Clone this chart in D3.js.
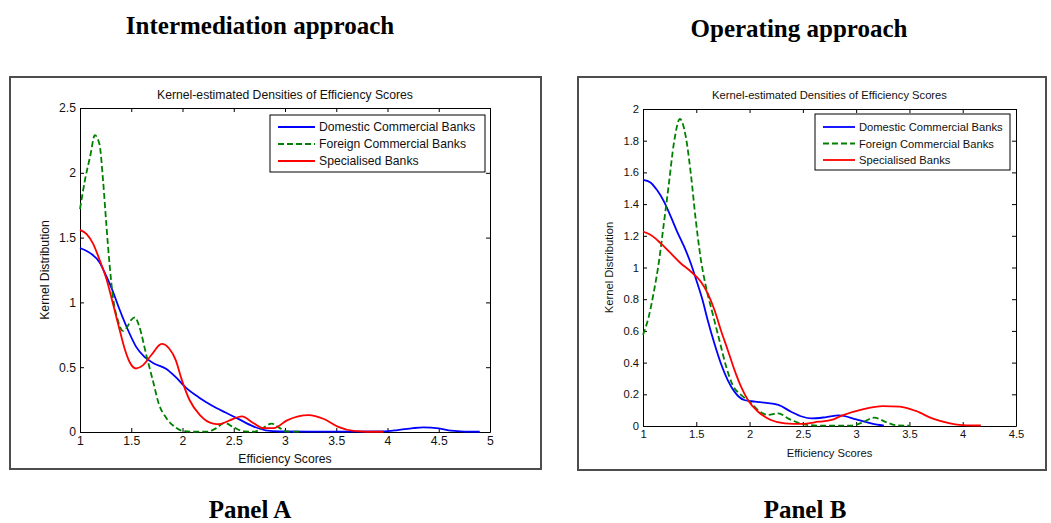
<!DOCTYPE html>
<html>
<head>
<meta charset="utf-8">
<script src="https://cdn.jsdelivr.net/npm/d3@7"></script>
<style>
  body { margin: 0; background: #fff; }
  text { font-family: "Liberation Sans", Arial, sans-serif; }
</style>
</head>
<body>
<script>
// series names
var seriesNames = ["Domestic Commercial Banks", "Foreign Commercial Banks", "Specialised Banks"];

// Panel A (intermediation approach) curves, [score, density]
var aDomestic = [[1,1.42],[1.1,1.38],[1.19,1.31],[1.258,1.2],[1.32,1.086],[1.387,0.943],[1.468,0.787],[1.548,0.657],[1.629,0.579],[1.726,0.527],[1.839,0.488],[1.935,0.423],[2.03,0.345],[2.16,0.267],[2.29,0.203],[2.42,0.15],[2.55,0.099],[2.68,0.047],[2.81,0.013],[2.95,0.004],[3.5,0.003],[3.95,0.005],[4.1,0.015],[4.25,0.03],[4.35,0.035],[4.5,0.028],[4.62,0.01],[4.75,0.003],[4.9,0.002]];
var aForeign = [[1,1.72],[1.05,1.95],[1.1,2.13],[1.145,2.29],[1.19,2.22],[1.226,1.93],[1.258,1.59],[1.29,1.28],[1.32,1.05],[1.37,0.86],[1.42,0.78],[1.46,0.81],[1.5,0.865],[1.535,0.885],[1.58,0.81],[1.645,0.6],[1.71,0.4],[1.77,0.215],[1.84,0.11],[1.935,0.034],[2.0,0.008],[2.1,0.002],[2.25,0.003],[2.33,0.03],[2.41,0.07],[2.5,0.035],[2.6,0.005],[2.7,0.003],[2.78,0.03],[2.87,0.065],[2.95,0.03],[3.02,0.004],[3.15,0.002]];
var aSpecial = [[1,1.56],[1.065,1.527],[1.13,1.45],[1.19,1.33],[1.258,1.18],[1.32,0.995],[1.387,0.787],[1.435,0.644],[1.484,0.54],[1.546,0.49],[1.613,0.514],[1.694,0.592],[1.797,0.68],[1.87,0.644],[1.935,0.553],[1.99,0.41],[2.07,0.245],[2.17,0.13],[2.3,0.064],[2.36,0.06],[2.46,0.09],[2.58,0.12],[2.69,0.07],[2.79,0.03],[2.89,0.03],[3.02,0.09],[3.23,0.13],[3.38,0.1],[3.52,0.04],[3.67,0.008],[3.8,0.002],[3.96,0.002]];

// Panel B (operating approach)
var bDomestic = [[1,1.553],[1.07,1.537],[1.13,1.49],[1.196,1.417],[1.26,1.322],[1.32,1.227],[1.385,1.133],[1.448,1.027],[1.51,0.9],[1.558,0.796],[1.606,0.67],[1.67,0.52],[1.73,0.396],[1.795,0.29],[1.858,0.217],[1.95,0.164],[2.05,0.154],[2.14,0.147],[2.27,0.133],[2.39,0.09],[2.49,0.06],[2.58,0.048],[2.71,0.055],[2.84,0.067],[3.0,0.042],[3.15,0.015],[3.26,0.003]];
var bForeign = [[1,0.575],[1.054,0.69],[1.1,0.84],[1.148,1.03],[1.196,1.28],[1.243,1.53],[1.29,1.785],[1.347,1.937],[1.4,1.83],[1.448,1.596],[1.495,1.3],[1.543,1.05],[1.59,0.88],[1.653,0.71],[1.716,0.543],[1.78,0.375],[1.84,0.26],[1.92,0.196],[2.0,0.154],[2.08,0.1],[2.17,0.07],[2.27,0.08],[2.36,0.048],[2.46,0.02],[2.55,0.006],[2.7,0.002],[2.95,0.003],[3.05,0.02],[3.17,0.053],[3.28,0.025],[3.38,0.004],[3.5,0.002]];
var bSpecial = [[1,1.227],[1.07,1.206],[1.164,1.154],[1.26,1.09],[1.353,1.027],[1.448,0.975],[1.543,0.91],[1.606,0.838],[1.67,0.733],[1.73,0.606],[1.795,0.48],[1.858,0.354],[1.92,0.248],[1.984,0.164],[2.08,0.09],[2.2,0.038],[2.33,0.017],[2.49,0.013],[2.65,0.027],[2.77,0.038],[2.87,0.067],[3.06,0.105],[3.25,0.126],[3.41,0.122],[3.56,0.095],[3.72,0.046],[3.88,0.017],[4.0,0.006],[4.17,0.003]];

// tick values
var aXTicks = [1, 1.5, 2, 2.5, 3, 3.5, 4, 4.5, 5];
var aYTicks = [0, 0.5, 1, 1.5, 2, 2.5];
var bXTicks = [1, 1.5, 2, 2.5, 3, 3.5, 4, 4.5];
var bYTicks = [0, 0.2, 0.4, 0.6, 0.8, 1, 1.2, 1.4, 1.6, 1.8, 2];

var colors = ["#0000ff", "#008000", "#ff0000"];
var dashes = [null, "6,3", null];

var w = 1051, h = 523;

var svg = d3.select("body").append("svg")
    .attr("width", w)
    .attr("height", h);

function panel(o) {
    var g = svg.append("g");

    // outer frame
    g.append("rect")
        .attr("x", o.box[0]).attr("y", o.box[1])
        .attr("width", o.box[2] - o.box[0]).attr("height", o.box[3] - o.box[1])
        .style("fill", "none").style("stroke", "#4d4d4d").style("stroke-width", 2);

    // headings
    svg.append("text")
        .attr("x", o.headX).attr("y", o.headY)
        .attr("text-anchor", "middle")
        .style("font-family", "'Liberation Serif', 'Times New Roman', serif")
        .style("font-weight", "bold").style("font-size", "25px")
        .text(o.heading);
    svg.append("text")
        .attr("x", o.footX).attr("y", 518)
        .attr("text-anchor", "middle")
        .style("font-family", "'Liberation Serif', 'Times New Roman', serif")
        .style("font-weight", "bold").style("font-size", "25px")
        .text(o.footer);

    var x = d3.scaleLinear().domain(o.xDom).range([o.plot[0], o.plot[2]]);
    var y = d3.scaleLinear().domain(o.yDom).range([o.plot[3], o.plot[1]]);
    var fs = o.fs + "px";

    var fmt = function (d) { return d; };
    var gx = g.append("g").attr("transform", "translate(0," + o.plot[3] + ")")
        .call(d3.axisBottom(x).tickValues(o.xTicks).tickSizeInner(-4).tickSizeOuter(0).tickPadding(4).tickFormat(fmt));
    var gy = g.append("g").attr("transform", "translate(" + o.plot[0] + ",0)")
        .call(d3.axisLeft(y).tickValues(o.yTicks).tickSizeInner(-4).tickSizeOuter(0).tickPadding(4).tickFormat(fmt));
    var gt = g.append("g").attr("transform", "translate(0," + o.plot[1] + ")")
        .call(d3.axisTop(x).tickValues(o.xTicks).tickSizeInner(-4).tickSizeOuter(0).tickFormat(""));
    var gr = g.append("g").attr("transform", "translate(" + o.plot[2] + ",0)")
        .call(d3.axisRight(y).tickValues(o.yTicks).tickSizeInner(-4).tickSizeOuter(0).tickFormat(""));
    [gx, gy, gt, gr].forEach(function (a) {
        a.selectAll("path,line").style("stroke", "#000").style("stroke-width", 1);
        a.selectAll("text").style("font-size", fs).style("font-family", "'Liberation Sans', Arial, sans-serif").style("fill", "#111");
    });

    // title & labels
    g.append("text").attr("x", (o.plot[0] + o.plot[2]) / 2).attr("y", o.titleY)
        .attr("text-anchor", "middle").style("font-size", fs).style("fill", "#111")
        .text("Kernel-estimated Densities of Efficiency Scores");
    g.append("text").attr("x", (o.plot[0] + o.plot[2]) / 2).attr("y", o.xLabY)
        .attr("text-anchor", "middle").style("font-size", fs).style("fill", "#111")
        .text("Efficiency Scores");
    g.append("text")
        .attr("transform", "translate(" + o.yLabX + "," + (o.plot[1] + o.plot[3]) / 2 + ") rotate(-90)")
        .attr("text-anchor", "middle").style("font-size", fs).style("fill", "#111")
        .text("Kernel Distribution");

    var line = d3.line()
        .x(function (d) { return x(d[0]); })
        .y(function (d) { return y(d[1]); })
        .curve(d3.curveMonotoneX);

    o.series.forEach(function (s, i) {
        g.append("path").datum(s)
            .attr("d", line)
            .style("fill", "none")
            .style("stroke", colors[i])
            .style("stroke-width", 1.8)
            .style("stroke-dasharray", dashes[i]);
    });

    // legend
    var L = o.legend;
    g.append("rect").attr("x", L.x0).attr("y", L.y0)
        .attr("width", L.x1 - L.x0).attr("height", L.y1 - L.y0)
        .style("fill", "#fff").style("stroke", "#000").style("stroke-width", 1);
    seriesNames.forEach(function (n, i) {
        var yy = L.rowY + i * L.step;
        g.append("line").attr("x1", L.lx0).attr("x2", L.lx1).attr("y1", yy).attr("y2", yy)
            .style("stroke", colors[i]).style("stroke-width", 1.8)
            .style("stroke-dasharray", dashes[i]);
        g.append("text").attr("x", L.tx).attr("y", yy + o.fs * 0.36)
            .style("font-size", fs).style("fill", "#111").text(n);
    });
}

panel({
    box: [10, 77, 541, 469],
    plot: [80, 108, 490, 432],
    xDom: [1, 5], yDom: [0, 2.5],
    xTicks: aXTicks, yTicks: aYTicks,
    fs: 12.2,
    titleY: 99, xLabY: 463, yLabX: 49,
    heading: "Intermediation approach", headX: 260, headY: 34,
    footer: "Panel A", footX: 250,
    series: [aDomestic, aForeign, aSpecial],
    legend: { x0: 270, y0: 115, x1: 485, y1: 172, rowY: 127, step: 17, lx0: 278, lx1: 315, tx: 319 }
});

panel({
    box: [578, 77, 1046, 470],
    plot: [643, 109, 1016, 426],
    xDom: [1, 4.5], yDom: [0, 2],
    xTicks: bXTicks, yTicks: bYTicks,
    fs: 11.2,
    titleY: 99, xLabY: 457, yLabX: 613,
    heading: "Operating approach", headX: 799, headY: 37,
    footer: "Panel B", footX: 805,
    series: [bDomestic, bForeign, bSpecial],
    legend: { x0: 815, y0: 114, x1: 1010, y1: 170, rowY: 127, step: 16.5, lx0: 823, lx1: 855, tx: 859 }
});
</script>
</body>
</html>
